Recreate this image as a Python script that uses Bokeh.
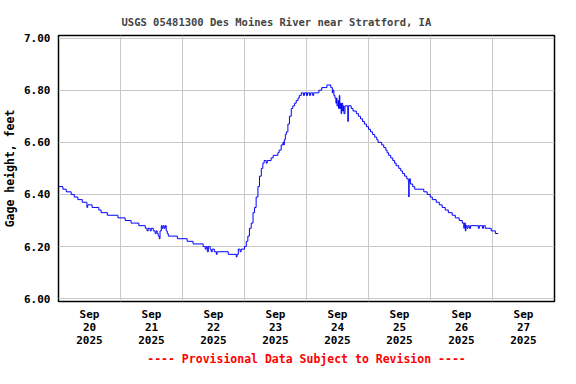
from bokeh.plotting import figure
from bokeh.models import FixedTicker, PrintfTickFormatter
from bokeh.embed import file_html
from bokeh.resources import INLINE

# Hours since 2025-09-20 00:00 (step change points) and gage height in feet
hours = [0.0, 1.7, 3.0, 4.9, 6.1, 7.5, 9.2, 11.0, 11.3, 13.0, 15.6, 16.5, 18.9, 23.0,
         25.8, 28.1, 31.1, 33.6, 34.3, 34.7, 35.5, 35.9, 36.7, 37.4, 37.8, 38.2, 38.6,
         39.0, 39.3, 39.8, 40.1, 40.5, 40.9, 41.3, 41.7, 42.1, 42.5, 46.0, 49.8, 52.1,
         56.0, 56.8, 57.2, 57.6, 58.0, 58.7, 59.1, 59.5, 60.3, 61.1, 61.4, 65.7, 68.8,
         69.1, 69.6, 70.3, 70.7, 72.0, 72.7, 73.3, 73.9, 74.6, 75.3, 75.9, 76.5, 77.2,
         77.8, 78.5, 79.1, 79.6, 80.4, 80.8, 82.3, 83.1, 84.9, 85.4, 86.2, 86.9, 87.2,
         87.4, 87.8, 88.2, 88.8, 89.4, 90.1, 90.7, 91.4, 92.0, 92.7, 93.2, 94.0, 94.8,
         95.2, 96.0, 96.4, 97.2, 97.6, 98.4, 98.8, 100.8, 101.9, 103.9, 105.4, 106.0,
         106.2, 106.6, 107.0, 107.4, 107.6, 107.8, 108.2, 108.4, 108.7, 108.9, 109.2,
         109.4, 109.6, 110.0, 110.3, 110.5, 110.9, 112.0, 112.2, 113.3, 114.0, 115.3,
         116.1, 116.9, 117.7, 118.4, 119.2, 120.0, 120.8, 121.6, 122.4, 123.2, 123.7,
         125.1, 125.9, 126.7, 127.2, 127.8, 128.6, 129.4, 130.1, 130.7, 131.7, 132.5,
         133.2, 134.0, 134.8, 135.4, 135.6, 135.7, 135.9, 136.2, 137.1, 137.9, 141.4,
         142.7, 143.9, 144.7, 146.2, 147.4, 148.5, 149.7, 150.9, 152.4, 153.6, 155.1,
         156.3, 156.9, 157.1, 157.5, 157.7, 158.1, 158.5, 159.0, 159.5, 162.5, 162.9,
         164.1, 164.5, 165.2, 167.5, 169.1, 170.2]
stage = [6.43, 6.42, 6.41, 6.40, 6.39, 6.38, 6.37, 6.35, 6.36, 6.35, 6.34, 6.33, 6.32, 6.31,
         6.30, 6.29, 6.28, 6.27, 6.26, 6.27, 6.26, 6.27, 6.26, 6.25, 6.26, 6.25, 6.24,
         6.23, 6.26, 6.28, 6.27, 6.28, 6.27, 6.28, 6.26, 6.25, 6.24, 6.23, 6.22, 6.21,
         6.20, 6.19, 6.20, 6.18, 6.20, 6.19, 6.18, 6.19, 6.18, 6.17, 6.18, 6.17, 6.16,
         6.17, 6.19, 6.18, 6.19, 6.20, 6.22, 6.24, 6.27, 6.29, 6.33, 6.35, 6.39, 6.43,
         6.47, 6.50, 6.52, 6.53, 6.52, 6.53, 6.54, 6.55, 6.56, 6.57, 6.59, 6.60, 6.59,
         6.61, 6.63, 6.64, 6.67, 6.70, 6.73, 6.74, 6.75, 6.76, 6.77, 6.78, 6.79, 6.78,
         6.79, 6.78, 6.79, 6.78, 6.79, 6.78, 6.79, 6.80, 6.81, 6.82, 6.81, 6.79,
         6.80, 6.78, 6.77, 6.75, 6.77, 6.74, 6.76, 6.73, 6.78, 6.73, 6.75,
         6.71, 6.75, 6.72, 6.74, 6.71, 6.74, 6.68, 6.74, 6.73, 6.72, 6.71,
         6.70, 6.69, 6.68, 6.67, 6.66, 6.65, 6.64, 6.63, 6.62, 6.61, 6.60,
         6.59, 6.58, 6.57, 6.56, 6.55, 6.54, 6.53, 6.52, 6.51, 6.50, 6.49,
         6.48, 6.47, 6.46, 6.45, 6.39, 6.45, 6.46, 6.44, 6.43, 6.42, 6.41,
         6.40, 6.39, 6.38, 6.37, 6.36, 6.35, 6.34, 6.33, 6.32, 6.31, 6.30,
         6.29, 6.27, 6.29, 6.26, 6.28, 6.27, 6.28, 6.27, 6.28, 6.27, 6.28,
         6.27, 6.28, 6.27, 6.26, 6.25, 6.25]

day_tick_hours = [12, 36, 60, 84, 108, 132, 156, 180]
day_labels = ["Sep\n20\n2025", "Sep\n21\n2025", "Sep\n22\n2025", "Sep\n23\n2025",
              "Sep\n24\n2025", "Sep\n25\n2025", "Sep\n26\n2025", "Sep\n27\n2025"]
midnight_hours = [24, 48, 72, 96, 120, 144, 168]
y_ticks = [6.0, 6.2, 6.4, 6.6, 6.8, 7.0]

title_text = "USGS 05481300 Des Moines River near Stratford, IA"
y_label = "Gage height, feet"
note_text = "---- Provisional Data Subject to Revision ----"

FONT = "DejaVu Sans Mono"

p = figure(width=560, height=368, x_range=(0, 192), y_range=(5.989, 7.010),
           output_backend="svg", toolbar_location=None,
           min_border_left=58, min_border_right=6, min_border_top=35,
           min_border_bottom=58)
p.background_fill_color = "white"
p.border_fill_color = "white"
p.outline_line_color = "black"
p.outline_line_width = 1.5

p.step(hours, stage, mode="after", line_color="#0000ff", line_width=1)

# title
p.title.text = title_text
p.title.text_font = FONT
p.title.text_font_size = "10.5px"
p.title.text_font_style = "bold"
p.title.align = "left"
p.title.offset = 63
p.title.standoff = 15

# x axis (tick labels at noon, note as axis label)
xa = p.xaxis[0]
xa.ticker = FixedTicker(ticks=day_tick_hours)
xa.major_label_overrides = dict(zip(day_tick_hours, day_labels))
xa.major_tick_in = 0
xa.major_tick_out = 0
xa.minor_tick_in = 0
xa.minor_tick_out = 0
xa.axis_line_color = None
xa.major_label_standoff = 6
xa.major_label_text_font = FONT
xa.major_label_text_font_size = "11px"
xa.major_label_text_font_style = "bold"
xa.major_label_text_color = "black"
xa.major_label_text_line_height = 1.0
xa.axis_label = note_text
xa.axis_label_text_font = FONT
xa.axis_label_text_font_size = "11.5px"
xa.axis_label_text_font_style = "bold"
xa.axis_label_text_color = "red"
xa.axis_label_standoff = 2

# y axis
ya = p.yaxis[0]
ya.ticker = FixedTicker(ticks=y_ticks)
ya.formatter = PrintfTickFormatter(format="%.2f")
ya.major_tick_in = 0
ya.major_tick_out = 0
ya.minor_tick_in = 0
ya.minor_tick_out = 0
ya.axis_line_color = None
ya.major_label_standoff = 8
ya.major_label_text_font = FONT
ya.major_label_text_font_size = "11px"
ya.major_label_text_font_style = "bold"
ya.major_label_text_color = "black"
ya.axis_label = y_label
ya.axis_label_text_font = FONT
ya.axis_label_text_font_size = "11.5px"
ya.axis_label_text_font_style = "bold"
ya.axis_label_text_color = "black"
ya.axis_label_standoff = 4

# grids
p.xgrid.ticker = FixedTicker(ticks=midnight_hours)
p.xgrid.grid_line_color = "#c8c8c8"
p.xgrid.grid_line_width = 1
p.ygrid.grid_line_color = "#c8c8c8"
p.ygrid.grid_line_width = 1

open("out.html", "w").write(file_html(p, INLINE))
